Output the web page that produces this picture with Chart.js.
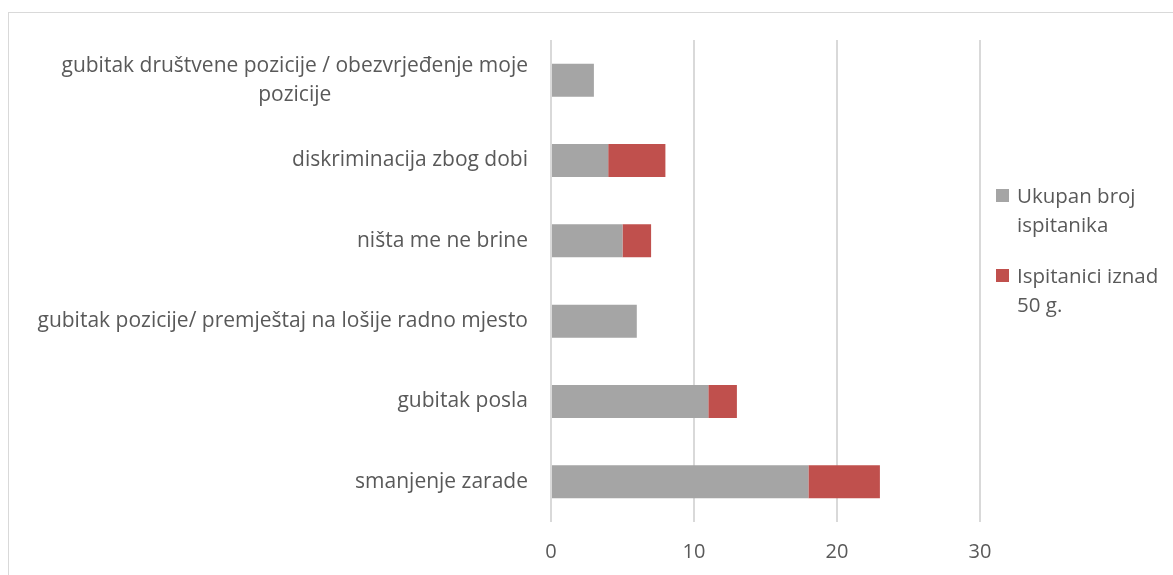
<!DOCTYPE html>
<html lang="hr">
<head>
<meta charset="UTF-8">
<title>Zabrinutosti ispitanika</title>
<script src="https://cdn.jsdelivr.net/npm/chart.js@4/dist/chart.umd.min.js"></script>
<style>
  html, body { margin: 0; padding: 0; background: #fff; }
  #wrap { position: relative; width: 1173px; height: 575px; overflow: hidden; }
  #frame { position: absolute; left: 8px; top: 12px; width: 1200px; height: 600px; border: 1px solid #d9d9d9; }
  #chart { position: absolute; left: 0; top: 0; }
  #legend { position: absolute; left: 996px; top: 181px; font-family: "Open Sans", sans-serif; font-size: 20.5px; color: #595959; }
  .item { position: relative; padding-left: 21px; line-height: 29px; margin-bottom: 22px; white-space: nowrap; }
  .box { position: absolute; left: 0; top: 8px; width: 13px; height: 13px; }
</style>
</head>
<body>
<div id="wrap">
  <div id="frame"></div>
  <canvas id="chart" width="1173" height="575"></canvas>
  <div id="legend"></div>
</div>
<script>
  // categories, top to bottom
  const categories = [
    ['gubitak društvene pozicije / obezvrjeđenje moje', 'pozicije'],
    ['diskriminacija zbog dobi'],
    ['ništa me ne brine'],
    ['gubitak pozicije/ premještaj na lošije radno mjesto'],
    ['gubitak posla'],
    ['smanjenje zarade']
  ];
  const ukupno = [3, 4, 5, 6, 11, 18];
  const iznad50 = [0, 4, 2, 0, 2, 5];
  const seriesNames = [['Ukupan broj', 'ispitanika'], ['Ispitanici iznad', '50 g.']];
  const seriesColors = ['#a5a5a5', '#c0504d'];
  const xTicks = [0, 10, 20, 30];

  const FONT = '"Open Sans", sans-serif';
  const TEXT = '#595959';

  // excel-style category labels: right aligned block, lines centered inside it
  const catLabels = {
    id: 'catLabels',
    afterDraw(chart) {
      const y = chart.scales.y;
      const ctx = chart.ctx;
      ctx.save();
      ctx.font = '21px ' + FONT;
      ctx.fillStyle = TEXT;
      ctx.textAlign = 'center';
      ctx.textBaseline = 'middle';
      const right = y.right - 23;
      const lh = 29;
      categories.forEach((lines, i) => {
        const w = Math.max(...lines.map(l => ctx.measureText(l).width));
        const cx = right - w / 2;
        const cy = y.getPixelForTick(i);
        const top = cy - (lines.length - 1) * lh / 2;
        lines.forEach((l, k) => ctx.fillText(l, cx, top + k * lh));
      });
      ctx.restore();
    }
  };

  const ctx = document.getElementById('chart').getContext('2d');
  const chart = new Chart(ctx, {
    type: 'bar',
    data: {
      labels: categories.map(c => c.join(' ')),
      datasets: [
        { label: seriesNames[0].join(' '), data: ukupno, backgroundColor: seriesColors[0] },
        { label: seriesNames[1].join(' '), data: iznad50, backgroundColor: seriesColors[1] }
      ]
    },
    options: {
      indexAxis: 'y',
      responsive: false,
      devicePixelRatio: 1,
      animation: false,
      layout: { padding: { left: 0, right: 193, top: 40, bottom: 0 } },
      categoryPercentage: 1,
      barPercentage: 0.41,
      plugins: {
        legend: { display: false },
        tooltip: { enabled: false }
      },
      scales: {
        x: {
          stacked: true,
          min: 0,
          max: 30,
          afterBuildTicks(scale) { scale.ticks = xTicks.map(v => ({ value: v })); },
          afterFit(scale) { scale.height = 53; },
          grid: { color: '#d9d9d9', lineWidth: 2, drawTicks: false },
          border: { display: false },
          ticks: { color: TEXT, font: { family: FONT, size: 20 }, padding: 18 }
        },
        y: {
          stacked: true,
          afterFit(scale) { scale.width = 551; },
          grid: { display: false },
          border: { display: false },
          ticks: { display: false }
        }
      }
    },
    plugins: [catLabels]
  });

  // legend built from the datasets
  const legend = document.getElementById('legend');
  chart.data.datasets.forEach((ds, i) => {
    const item = document.createElement('div');
    item.className = 'item';
    item.innerHTML = '<span class="box" style="background:' + ds.backgroundColor + '"></span>' +
      seriesNames[i].join('<br>');
    legend.appendChild(item);
  });
</script>
</body>
</html>
